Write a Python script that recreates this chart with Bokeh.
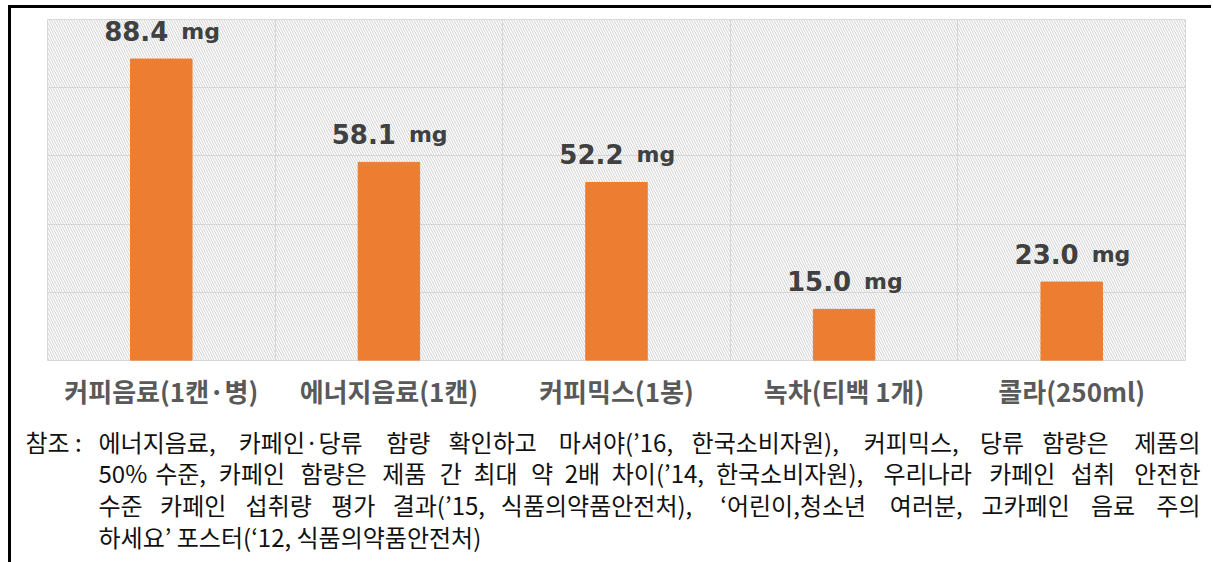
from bokeh.plotting import figure
from bokeh.layouts import column
from bokeh.models import FixedTicker, BoxAnnotation, Label, ColumnDataSource, Range1d
from bokeh.core.properties import value
from bokeh.embed import file_html
from bokeh.resources import INLINE

# ---- data ----
categories = ["커피음료(1캔·병)", "에너지음료(1캔)", "커피믹스(1봉)", "녹차(티백 1개)", "콜라(250ml)"]
caffeine_mg = [88.4, 58.1, 52.2, 15.0, 23.0]
unit_label = "mg"
y_ticks = [0, 20, 40, 60, 80, 100]
note_head = "참조 :"
note_lines = [
    "에너지음료, 카페인·당류 함량 확인하고 마셔야(’16, 한국소비자원), 커피믹스, 당류 함량은 제품의",
    "50% 수준, 카페인 함량은 제품 간 최대 약 2배 차이(’14, 한국소비자원), 우리나라 카페인 섭취 안전한",
    "수준 카페인 섭취량 평가 결과(’15, 식품의약품안전처), ‘어린이,청소년 여러분, 고카페인 음료 주의",
    "하세요’ 포스터(‘12, 식품의약품안전처)",
]

positions = list(range(1, len(categories) + 1))
boundaries = [x - 0.5 for x in positions] + [positions[-1] + 0.5]

# content origin on page: (11, 8)  (column at (8,5) + 3px border)
W = 1200
H1 = 412
FRAME_W, FRAME_H = 1138, 341
ML, MT = 36, 11
p = figure(width=W, height=H1, output_backend="svg", toolbar_location=None,
           x_range=Range1d(boundaries[0], boundaries[-1]), y_range=Range1d(y_ticks[0], y_ticks[-1]),
           min_border_left=ML, min_border_right=W - ML - FRAME_W,
           min_border_top=MT, min_border_bottom=H1 - MT - FRAME_H)
p.frame_align = False
p.background_fill_color = "white"
p.border_fill_color = "white"
p.outline_line_color = "#d9d9d9"
p.outline_line_width = 1

p.yaxis.visible = False
p.ygrid.ticker = FixedTicker(ticks=y_ticks)
p.xgrid.ticker = FixedTicker(ticks=boundaries)
p.grid.grid_line_color = "#d9d9d9"
p.grid.grid_line_width = 1

p.xaxis.ticker = FixedTicker(ticks=positions)
p.xaxis.major_label_overrides = {pos: cat for pos, cat in zip(positions, categories)}
p.xaxis.axis_line_color = None
p.xaxis.major_tick_line_color = None
p.xaxis.minor_tick_line_color = None
p.xaxis.major_label_standoff = 5
p.xaxis.major_label_text_font = "Noto Sans CJK KR"
p.xaxis.major_label_text_font_style = "bold"
p.xaxis.major_label_text_font_size = "26px"
p.xaxis.major_label_text_color = "#595959"

hatch = BoxAnnotation(fill_alpha=0, line_color=None, hatch_pattern="\\",
                      hatch_color="#d0d0d0", hatch_scale=5, hatch_weight=1, level="underlay")
p.add_layout(hatch)

src = ColumnDataSource(dict(x=positions, top=caffeine_mg,
                            num=[f"{v:.1f}" for v in caffeine_mg],
                            unit=[unit_label] * len(caffeine_mg)))
p.vbar(x="x", top="top", width=0.27, source=src, fill_color="#ED7D31", line_color="#ED7D31")
p.text(x="x", y="top", text="num", source=src, text_align="right", text_baseline="alphabetic",
       x_offset=7, y_offset=-28, text_font=value("DejaVu Sans"), text_font_style="bold",
       text_font_size="26px", text_color="#404040")
p.text(x="x", y="top", text="unit", source=src, text_align="left", text_baseline="alphabetic",
       x_offset=20, y_offset=-28, text_font=value("DejaVu Sans"), text_font_style="bold",
       text_font_size="22px", text_color="#404040")

# ---- footnote figure (data units == pixels, y downward) ----
H2 = 142
q = figure(width=W, height=H2, output_backend="svg", toolbar_location=None,
           x_range=Range1d(0, W), y_range=Range1d(H2, 0),
           min_border=0, min_border_left=0, min_border_right=0,
           min_border_top=0, min_border_bottom=0)
q.frame_align = False
q.axis.visible = False
q.grid.visible = False
q.outline_line_color = None
q.background_fill_color = "white"
q.border_fill_color = "white"

FS = 24


def est_width(s, size):
    w = 0.0
    for ch in s:
        if '\uac00' <= ch <= '\ud7a3':
            w += 1.0
        elif ch.isdigit():
            w += 0.555
        elif ch == ' ':
            w += 0.224
        elif ch in ",.:;":
            w += 0.25
        elif ch in "()":
            w += 0.33
        elif ch in "‘’'":
            w += 0.25
        elif ch == '%':
            w += 0.85
        elif ch == '·':
            w += 0.55
        else:
            w += 0.5
    return w * size


def add_label(text, x, y, align="left"):
    q.add_layout(Label(x=x, y=y, text=text, text_align=align, text_baseline="middle",
                       text_font="Noto Sans CJK KR", text_font_size=f"{FS}px",
                       text_color="#111111"))


# page -> footnote coords: x - 11, y - (8 + H1)
left_head, left_body, right_edge = 14, 87, 1189
line_y = [21, 52, 84, 116]
add_label(note_head, left_head, line_y[0])
for i, line in enumerate(note_lines):
    words = line.split(" ")
    y = line_y[i]
    if i == len(note_lines) - 1:
        add_label(line, left_body, y)
        continue
    widths = [est_width(w, FS) for w in words]
    gap = (right_edge - left_body - sum(widths)) / (len(words) - 1)
    x = left_body
    for j, (w, wd) in enumerate(zip(words, widths)):
        if j == len(words) - 1:
            add_label(w, right_edge, y, align="right")
        else:
            add_label(w, x, y)
        x += wd + gap

layout = column(p, q, spacing=0)
layout.styles = {"border-top": "3px solid black", "border-left": "3px solid black",
                 "margin-left": "8px", "margin-top": "5px"}

open("out.html", "w").write(file_html(layout, INLINE))
